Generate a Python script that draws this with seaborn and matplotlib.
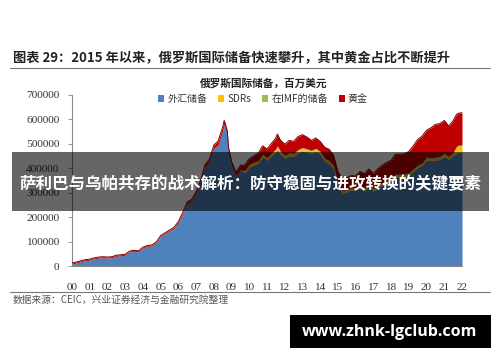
import numpy as np
import pandas as pd
import matplotlib
matplotlib.use("Agg")
import matplotlib.pyplot as plt
from matplotlib.patches import Rectangle, Patch
from matplotlib.lines import Line2D
import seaborn as sns

# ---------------- data (millions USD) ----------------
dates = ["2000-01","2000-04","2000-07","2000-10","2001-01","2001-04","2001-07","2001-10",
         "2002-01","2002-04","2002-07","2002-10","2003-01","2003-04","2003-07","2003-10",
         "2004-01","2004-04","2004-07","2004-10","2005-01","2005-04","2005-07","2005-10",
         "2006-01","2006-04","2006-07","2006-10","2007-01","2007-04","2007-07","2007-10",
         "2008-01","2008-04","2008-07","2008-08","2008-10","2008-11","2009-01","2009-04",
         "2009-07","2009-10","2010-01","2010-04","2010-07","2010-10","2011-01","2011-04",
         "2011-07","2011-08","2011-10","2012-01","2012-04","2012-07","2012-10","2013-01",
         "2013-04","2013-07","2013-10","2014-01","2014-04","2014-07","2014-10","2015-01",
         "2015-04","2015-07","2015-10","2016-01","2016-04","2016-07","2016-10","2017-01",
         "2017-04","2017-07","2017-10","2018-01","2018-04","2018-07","2018-10","2019-01",
         "2019-04","2019-07","2019-10","2020-01","2020-04","2020-07","2020-10","2021-01",
         "2021-04","2021-07","2021-09","2021-10","2022-01"]

total = [12500,16500,21500,26000,28000,33500,36500,38000,
         36600,38000,44000,46000,48000,61000,64500,62000,
         77000,84000,86000,98000,124500,136000,147000,158000,
         182000,220000,263000,272000,303700,348000,414000,437000,
         495000,512000,569000,596000,556000,484000,427000,384000,
         412000,413000,439000,451000,461000,492000,479000,502000,
         524500,540000,516000,498600,514000,510000,530000,537600,
         528000,514000,524000,509600,486000,478000,454000,385500,
         356000,361000,370000,368400,387000,378000,397000,377700,
         398000,412000,424000,432700,458000,457000,460000,468500,
         492000,518000,532000,556000,566000,580000,583000,595800,
         573000,595000,618000,624000,628000]

gold = [4200,4200,4200,4200,4000,4000,4000,4000,
        4100,4100,4000,4000,4000,3900,3900,4000,
        3700,3800,3800,3900,3700,3800,4000,4500,
        6300,6800,7200,7800,8800,9500,10000,11500,
        13500,16000,16000,16000,15000,14500,14300,16000,
        18500,22000,22800,26000,30000,34000,35000,40000,
        45000,48000,46000,44500,50000,48000,53000,52000,
        48000,40000,42000,39900,44000,46000,43000,46000,
        49000,48000,49000,50000,55000,60000,60500,60000,
        67000,70000,75000,76600,82000,81000,82000,87000,
        93000,104000,110000,110000,122000,135000,134000,135000,
        124000,130000,131000,130000,132000]

sdr = [1,1,1,1,1,1,1,1,
       1,1,1,1,1,1,1,1,
       1,1,1,1,5,5,5,5,
       5,5,5,5,5,5,5,5,
       5,5,5,5,5,5,5,5,
       5,9000,8800,9000,8900,9000,8900,9000,
       9100,9100,8800,8800,8800,8700,8800,8800,
       8700,8600,8700,8700,8700,8700,8200,7500,
       7200,7200,7000,6900,7000,7000,7000,6800,
       7000,7100,7100,7100,7300,7000,7000,6900,
       6900,6900,6900,6900,6800,6900,7000,7100,
       7000,7000,24500,24300,24200]

imf = [1,1,1,1,1,1,1,1,
       1,1,1,1,1,1,1,1,
       1,1,1,1,200,200,200,200,
       200,200,200,200,200,200,200,200,
       250,300,300,300,300,300,600,1000,
       1300,1500,1600,1800,2000,2300,2600,3000,
       3500,3500,3800,4500,4800,5100,5200,5200,
       5000,4700,4600,4300,4200,4000,3400,2900,
       2600,2500,2400,2300,4800,4700,4600,4600,
       4800,4900,5000,5000,4800,4600,4500,4500,
       4700,4800,4800,4800,5000,5200,5300,5300,
       5200,5200,5200,5100,5100]

fx = [t - g - s - i for t, g, s, i in zip(total, gold, sdr, imf)]

series_names = ["外汇储备", "SDRs", "在IMF的储备", "黄金"]
series_colors = ["#4F81BD", "#FFC000", "#9BBB59", "#C00000"]
year_labels = ["%02d" % y for y in range(0, 23)]
yticks = [0, 100000, 200000, 300000, 400000, 500000, 600000, 700000]

df = pd.DataFrame({"date": pd.to_datetime(dates), "外汇储备": fx, "SDRs": sdr,
                   "在IMF的储备": imf, "黄金": gold, "total": total})
df["t"] = df["date"].dt.year + (df["date"].dt.month - 1) / 12.0

# ---------------- figure ----------------
sns.set_theme(style="white")
plt.rcParams["font.family"] = ["Noto Sans CJK SC", "DejaVu Sans"]

W, H = 500, 362
fig = plt.figure(figsize=(5.0, 3.62), dpi=100)
fig.patch.set_facecolor("white")

def fx_(x):
    return x / W

def fy_(y):
    return 1 - y / H

ax = fig.add_axes([fx_(72), fy_(266), fx_(462) - fx_(72), fy_(95) - fy_(266)])
ax.set_facecolor("white")
ax.stackplot(df["t"], [df[c] for c in series_names], colors=series_colors,
             linewidth=0, zorder=2)
sns.lineplot(x="t", y="total", data=df, ax=ax, color="#7A0000", linewidth=0.7,
             zorder=3, legend=False)

ax.set_xlim(2000, 2022)
ax.set_ylim(0, 700000)
ax.set_xticks(list(range(2000, 2023)))
ax.set_xticklabels(year_labels, fontfamily="Liberation Serif", fontsize=8, color="#333333")
ax.set_yticks(yticks)
ax.set_yticklabels([str(v) for v in yticks], fontfamily="Liberation Serif",
                   fontsize=8.2, color="#333333")
ax.set_xlabel("")
ax.set_ylabel("")
for side in ["top", "right"]:
    ax.spines[side].set_visible(False)
for side in ["left", "bottom"]:
    ax.spines[side].set_color("#888888")
    ax.spines[side].set_linewidth(0.8)
ax.tick_params(axis="y", which="major", left=True, length=3, width=0.6,
               color="#888888", pad=6)
ax.tick_params(axis="x", which="major", bottom=False, pad=6)

# chart title + legend
fig.text(fx_(264), fy_(83), "俄罗斯国际储备，百万美元", ha="center", va="center",
         fontsize=7.7, fontweight="bold", color="#222222")
handles = [Patch(facecolor=c, edgecolor="none") for c in series_colors]
leg = fig.legend(handles, series_names, ncol=4, loc="center",
                 bbox_to_anchor=(fx_(263), fy_(99)), frameon=False,
                 fontsize=7.2, handlelength=0.6, handleheight=0.6,
                 handletextpad=0.3, columnspacing=1.1, borderpad=0)
for t in leg.get_texts():
    t.set_color("#333333")

# header
fig.text(fx_(13), fy_(58), "图表 29：2015 年以来，俄罗斯国际储备快速攀升，其中黄金占比不断提升",
         ha="left", va="center", fontsize=9.5, fontweight="bold", color="#222222")
fig.add_artist(Line2D([fx_(10), fx_(490)], [fy_(68), fy_(68)], color="#777777",
                      linewidth=0.8, transform=fig.transFigure))
fig.add_artist(Line2D([fx_(10), fx_(490)], [fy_(292), fy_(292)], color="#777777",
                      linewidth=0.8, transform=fig.transFigure))
fig.text(fx_(13), fy_(300), "数据来源：CEIC，兴业证券经济与金融研究院整理",
         ha="left", va="center", fontsize=7.0, color="#555555")

# overlay band
fig.add_artist(Rectangle((fx_(12), fy_(211)), fx_(489) - fx_(12), fy_(152) - fy_(211),
                         transform=fig.transFigure, facecolor="black", alpha=0.6,
                         edgecolor="none", zorder=10))
fig.text(fx_(250), fy_(184), "萨利巴与乌帕共存的战术解析：防守稳固与进攻转换的关键要素",
         ha="center", va="center", fontsize=11.9, fontweight="bold", color="white",
         zorder=11)

# watermark box
fig.add_artist(Rectangle((fx_(290), fy_(348)), fx_(491) - fx_(290), fy_(315) - fy_(348),
                         transform=fig.transFigure, facecolor="black",
                         edgecolor="none", zorder=10))
fig.text(fx_(390), fy_(332), "www.zhnk-lgclub.com", ha="center", va="center",
         fontsize=11.5, fontweight="bold", color="white", family="Open Sans", zorder=11)

fig.savefig("out.png", dpi=100)
